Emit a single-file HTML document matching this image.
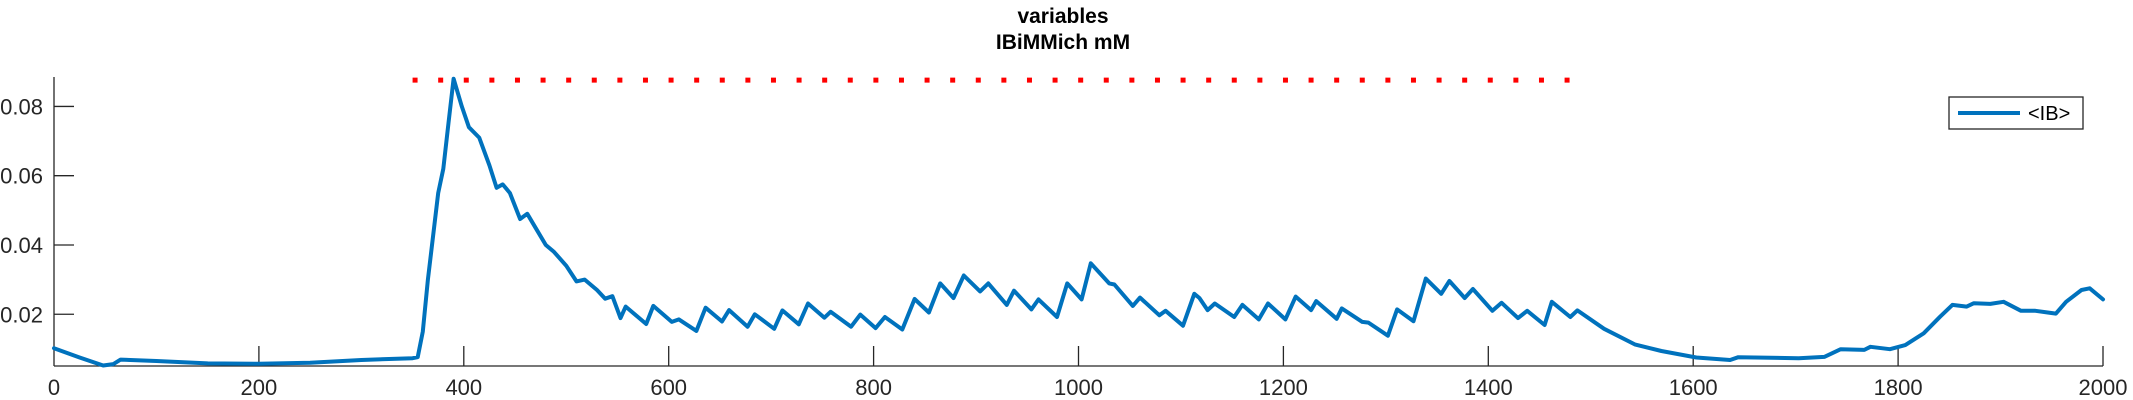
<!DOCTYPE html>
<html><head><meta charset="utf-8"><style>
html,body{margin:0;padding:0;background:#fff;}
svg{display:block;font-family:"Liberation Sans",sans-serif;}
</style></head><body>
<svg id="chart" width="2133" height="400" viewBox="0 0 2133 400" xmlns="http://www.w3.org/2000/svg">
<g id="title">
<text x="1063" y="23" text-anchor="middle" font-size="21" font-weight="bold" fill="#000">variables</text>
<text x="1063" y="49" text-anchor="middle" font-size="21" font-weight="bold" fill="#000">IBiMMich mM</text>
</g>
<g id="axes"></g>
<g id="plot"></g>
<g id="legend">
<rect x="1949" y="97" width="134" height="32" fill="#fff" stroke="#262626" stroke-width="1.3"/>
<line x1="1958" y1="113" x2="2020" y2="113" stroke="#0072BD" stroke-width="4"/>
<text x="2028" y="120" font-size="20" fill="#000">&lt;IB&gt;</text>
</g>
</svg>
<script>
const xTicks = [0, 200, 400, 600, 800, 1000, 1200, 1400, 1600, 1800, 2000];
const yTicks = [0.02, 0.04, 0.06, 0.08];
const yTickLabels = ["0.02", "0.04", "0.06", "0.08"];
const refLevel = 0.0876;
const refStart = 350;
const refEnd = 1480;
const ibTime = [0,25,48,58,65,100,150,200,250,300,350,355,360,365,375,380,385,390,398,405,415,425,432,438,445,455,462,470,480,488,500,510,518,530,538,545,553,558,578,585,603,610,627,636,652,659,677,684,703,711,727,736,752,758,778,787,802,811,828,840,854,865,878,888,904,912,930,937,954,961,979,989,1003,1012,1030,1035,1053,1060,1079,1085,1102,1113,1118,1126,1133,1152,1160,1176,1185,1202,1212,1227,1232,1252,1257,1277,1283,1302,1311,1327,1339,1354,1362,1377,1385,1404,1413,1429,1438,1455,1462,1480,1487,1513,1543,1569,1603,1636,1644,1703,1728,1744,1767,1773,1792,1807,1825,1841,1853,1867,1874,1890,1903,1920,1934,1946,1954,1964,1979,1987,2000];
const ibValue = [0.0102,0.0075,0.0052,0.0056,0.0069,0.0065,0.0058,0.0057,0.006,0.0068,0.0073,0.0076,0.015,0.03,0.055,0.062,0.075,0.088,0.08,0.074,0.071,0.063,0.0565,0.0575,0.055,0.0475,0.049,0.045,0.040,0.038,0.034,0.0295,0.030,0.027,0.0245,0.0252,0.0189,0.0222,0.0172,0.0224,0.0178,0.0185,0.0152,0.0219,0.0179,0.0212,0.0164,0.020,0.0158,0.0211,0.0171,0.0231,0.019,0.0207,0.0164,0.0199,0.016,0.0192,0.0156,0.0244,0.0205,0.0289,0.0247,0.0312,0.0266,0.0289,0.0227,0.0268,0.0214,0.0243,0.0192,0.0289,0.0243,0.0347,0.0289,0.0286,0.0224,0.0248,0.0197,0.021,0.0167,0.0259,0.0247,0.0212,0.0231,0.0192,0.0227,0.0185,0.0231,0.0185,0.0251,0.0212,0.0238,0.0187,0.0217,0.0178,0.0176,0.0138,0.0214,0.018,0.0303,0.0259,0.0296,0.0247,0.0273,0.021,0.0233,0.0189,0.021,0.0169,0.0236,0.0192,0.0211,0.0158,0.0113,0.0094,0.0075,0.0068,0.0076,0.0073,0.0077,0.0099,0.0097,0.0106,0.0099,0.0111,0.0145,0.0193,0.0227,0.0222,0.0232,0.023,0.0236,0.021,0.021,0.0205,0.0202,0.0236,0.027,0.0275,0.0243];

const NS = "http://www.w3.org/2000/svg";
const X0 = 54, X1 = 2103, YB = 366, YT = 77;
const xMin = 0, xMax = 2000, yMin = 0.00506, yMax = 0.0885;
function xs(t){ return X0 + (t - xMin) / (xMax - xMin) * (X1 - X0); }
function ys(v){ return YB - (v - yMin) / (yMax - yMin) * (YB - YT); }
function mk(tag, attrs, parent){ const e = document.createElementNS(NS, tag); for (const k in attrs) e.setAttribute(k, attrs[k]); parent.appendChild(e); return e; }

const axes = document.getElementById('axes');
const plot = document.getElementById('plot');
const col = "#262626";
let yl = mk('line', {x1:X0, y1:YT, x2:X0, y2:YB, stroke:col, 'stroke-width':1.3}, axes);


let xl = mk('line', {x1:X0, y1:YB, x2:X1, y2:YB, stroke:col, 'stroke-width':1.3}, axes);


xTicks.forEach(function(t){
  const x = xs(t);
  if (t !== xMin) {
    const tk = mk('line', {x1:x, y1:YB, x2:x, y2:YB-20, stroke:col, 'stroke-width':1.3}, axes);
    
    
  }
  const lb = mk('text', {x:x, y:395, 'text-anchor':'middle', 'font-size':22, fill:col}, axes);
  lb.textContent = String(t);
  
  
});
yTicks.forEach(function(v, i){
  const y = ys(v);
  const tk = mk('line', {x1:X0, y1:y, x2:X0+20, y2:y, stroke:col, 'stroke-width':1.3}, axes);
  
  
  const lb = mk('text', {x:43, y:y+8, 'text-anchor':'end', 'font-size':22, fill:col}, axes);
  lb.textContent = yTickLabels[i];
  
  
});
const ref = mk('line', {x1:xs(refStart), y1:ys(refLevel), x2:xs(refEnd), y2:ys(refLevel), stroke:'#FF0000', 'stroke-width':5, 'stroke-dasharray':'5 20.6'}, plot);


const pts = ibTime.map(function(t, i){ return xs(t).toFixed(1) + ',' + ys(ibValue[i]).toFixed(1); }).join(' ');
const ln = mk('polyline', {points:pts, fill:'none', stroke:'#0072BD', 'stroke-width':4, 'stroke-linejoin':'round', 'stroke-linecap':'round'}, plot);


</script>
</body></html>
